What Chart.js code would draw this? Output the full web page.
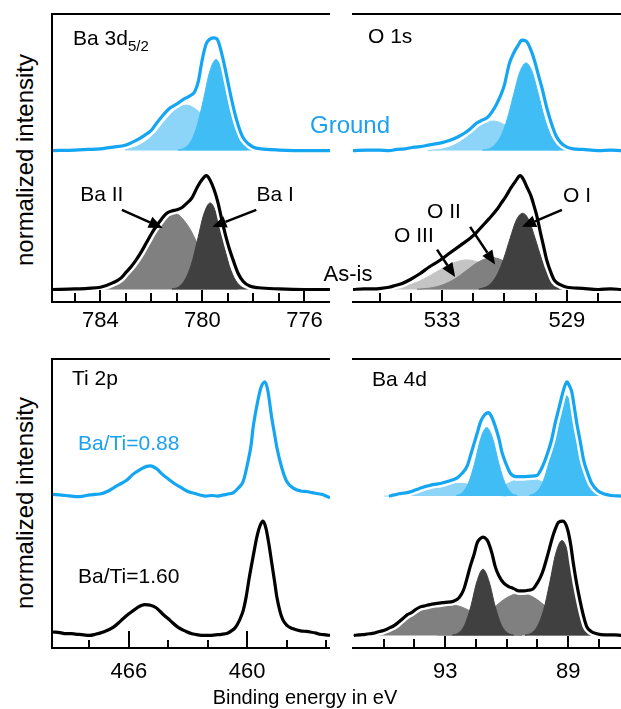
<!DOCTYPE html>
<html>
<head>
<meta charset="utf-8">
<script src="https://cdn.jsdelivr.net/npm/chart.js@4.4.0/dist/chart.umd.min.js"></script>
<style>
  body { margin: 0; background: #fff; }
  #page { position: relative; width: 621px; height: 709px; overflow: hidden; background: #fff;
          font-family: "Liberation Sans", Arial, sans-serif; }
  canvas { position: absolute; }
  .t { position: absolute; white-space: nowrap; line-height: 1; font-size: 21px; color: #000; }
  .l { transform: translateY(-50%); }
  .c { transform: translate(-50%, -50%); }
  .v { transform: translate(-50%, -50%) rotate(-90deg); font-size: 24px; }
  .blue { color: #1ba1ef; }
  .sub { font-size: 15px; position: relative; top: 6px; }
</style>
</head>
<body>
<div id="page">
  <canvas id="ba3d" width="286" height="332" style="left:48px;top:10px"></canvas>
  <canvas id="o1s" width="276" height="332" style="left:349px;top:10px"></canvas>
  <canvas id="ti2p" width="286" height="333" style="left:48px;top:355px"></canvas>
  <canvas id="ba4d" width="276" height="333" style="left:349px;top:355px"></canvas>

  <div class="t v" style="left:25px;top:160px">normalized intensity</div>
  <div class="t v" style="left:25px;top:503px">normalized intensity</div>
  <div class="t c" style="left:305px;top:697px;font-size:20px">Binding energy in eV</div>

  <div class="t l" style="left:73px;top:37px">Ba 3d<span class="sub">5/2</span></div>
  <div class="t l" style="left:368px;top:35px">O 1s</div>
  <div class="t l" style="left:72px;top:377px">Ti 2p</div>
  <div class="t l" style="left:372px;top:378px">Ba 4d</div>
  <div class="t c blue" style="left:350px;top:125px;font-size:24px">Ground</div>
  <div class="t c" style="left:348px;top:274px;font-size:22px">As-is</div>
  <div class="t l blue" style="left:78px;top:442px">Ba/Ti=0.88</div>
  <div class="t l" style="left:78px;top:575px">Ba/Ti=1.60</div>
</div>
<script>
// ---- Ba 3d5/2 ----
const ba3dGroundE = [785.9,785.0,784.5,784.0,783.5,783.0,782.6,782.3,782.0,781.8,781.55,781.3,781.0,780.75,780.5,780.3,780.15,780.05,779.95,779.85,779.7,779.55,779.4,779.3,779.15,779.0,778.85,778.7,778.55,778.4,778.2,778.0,777.7,777.5,777.0,776.0,775.0];
const ba3dGroundI = [0.0,0.005,0.01,0.015,0.03,0.05,0.09,0.13,0.18,0.24,0.31,0.37,0.41,0.45,0.48,0.52,0.62,0.75,0.86,0.94,0.98,0.99,0.97,0.90,0.76,0.60,0.44,0.30,0.19,0.11,0.06,0.03,0.015,0.01,0.005,0.0,0.0];
const ba3dGroundIE = [780.97,780.72,780.47,780.22,779.97,779.72,779.47,779.22,778.97,778.72,778.47,778.22,777.97];
const ba3dGroundII = [0.004,0.02,0.075,0.21,0.44,0.69,0.80,0.69,0.44,0.21,0.075,0.02,0.004];
const ba3dGroundIIE = [783.04,782.64,782.24,781.84,781.44,781.04,780.64,780.24,779.84,779.44,779.04,778.64,778.24];
const ba3dGroundIII = [0.01,0.032,0.08,0.16,0.27,0.36,0.40,0.36,0.27,0.16,0.08,0.032,0.01];

const ba3dAsisE = [785.9,785.0,784.5,784.0,783.5,783.2,783.0,782.8,782.6,782.4,782.2,782.0,781.8,781.6,781.4,781.2,781.0,780.8,780.6,780.4,780.2,780.0,779.85,779.7,779.55,779.4,779.25,779.1,778.95,778.8,778.6,778.4,778.15,777.8,777.0,776.0,775.0];
const ba3dAsisI = [0.0,0.005,0.01,0.02,0.06,0.10,0.15,0.20,0.26,0.33,0.41,0.49,0.56,0.62,0.67,0.69,0.70,0.72,0.76,0.81,0.90,0.97,1.0,0.96,0.88,0.77,0.62,0.48,0.36,0.26,0.14,0.07,0.03,0.015,0.005,0.0,0.0];
const ba3dAsisIE = [781.2,780.95,780.7,780.45,780.2,779.95,779.7,779.45,779.2,778.95,778.7,778.45,778.2];
const ba3dAsisII = [0.005,0.02,0.08,0.21,0.43,0.66,0.76,0.66,0.43,0.21,0.08,0.02,0.005];
const ba3dAsisIIE = [784.1,783.6,783.1,782.6,782.1,781.6,781.1,780.6,780.1,779.6,779.1,778.6];
const ba3dAsisIII = [0.007,0.03,0.09,0.22,0.41,0.59,0.67,0.57,0.36,0.15,0.04,0.01];

const ba3dTicks = [776,777,778,779,780,781,782,783,784,785];
const ba3dLabels = [784,780,776];

// ---- O 1s ----
const o1sGroundE = [535.85,535.4,535.0,534.7,534.45,534.2,534.0,533.7,533.4,533.0,532.75,532.5,532.3,532.1,531.9,531.7,531.55,531.4,531.25,531.1,531.0,530.85,530.7,530.55,530.45,530.3,530.15,530.05,529.9,529.8,529.65,529.5,529.35,529.2,529.0,528.8,528.5,528.0,527.6,527.27];
const o1sGroundI = [0.0,0.005,0.005,0.0,0.01,0.015,0.025,0.035,0.05,0.07,0.09,0.12,0.15,0.19,0.24,0.27,0.29,0.34,0.41,0.50,0.58,0.76,0.86,0.93,0.97,0.96,0.88,0.80,0.65,0.55,0.38,0.24,0.13,0.07,0.03,0.015,0.01,0.0,0.005,0.0];
const o1sGroundIE = [531.71,531.51,531.31,531.11,530.91,530.71,530.51,530.31,530.11,529.91,529.71,529.51,529.31,529.11,528.91];
const o1sGroundII = [0.004,0.014,0.05,0.13,0.28,0.49,0.69,0.77,0.69,0.49,0.28,0.13,0.05,0.014,0.004];
const o1sGroundIIE = [533.46,533.16,532.86,532.56,532.26,531.96,531.66,531.36,531.06,530.76,530.46,530.16,529.86,529.56,529.26];
const o1sGroundIII = [0.002,0.008,0.023,0.055,0.11,0.18,0.236,0.26,0.236,0.18,0.11,0.055,0.023,0.008,0.002];

const o1sAsisE = [535.85,535.5,535.2,534.95,534.7,534.5,534.3,534.0,533.7,533.4,533.1,532.75,532.4,532.1,531.9,531.7,531.5,531.25,531.1,530.95,530.8,530.65,530.5,530.4,530.3,530.15,530.05,529.95,529.85,529.75,529.65,529.5,529.4,529.2,529.0,528.5,528.0,527.6,527.27];
const o1sAsisI = [0.0,0.005,0.005,0.01,0.02,0.035,0.05,0.09,0.14,0.20,0.25,0.32,0.39,0.45,0.50,0.56,0.62,0.70,0.76,0.82,0.89,0.95,1.0,0.97,0.91,0.82,0.73,0.63,0.50,0.38,0.26,0.14,0.08,0.04,0.02,0.01,0.0,0.005,0.0];
const o1sAsisIE = [531.82,531.62,531.42,531.22,531.02,530.82,530.62,530.42,530.22,530.02,529.82,529.62,529.42,529.22,529.02];
const o1sAsisII = [0.005,0.019,0.057,0.138,0.275,0.45,0.61,0.67,0.61,0.45,0.275,0.138,0.057,0.019,0.005];
const o1sAsisIIE = [533.8,533.4,533.0,532.6,532.2,531.8,531.4,531.0,530.6,530.2,529.8,529.4,529.0];
const o1sAsisIII = [0.003,0.012,0.038,0.091,0.17,0.247,0.28,0.247,0.17,0.091,0.038,0.012,0.003];
const o1sAsisIIIE = [534.71,534.21,533.71,533.21,532.71,532.21,531.71,531.21,530.71,530.21,529.71];
const o1sAsisIIII = [0.008,0.028,0.075,0.15,0.226,0.26,0.226,0.15,0.075,0.028,0.008];

const o1sTicks = [528,529,530,531,532,533,534,535];
const o1sLabels = [533,529];

// ---- Ti 2p ----
const ti2pGroundE = [469.85,469.5,469.2,468.9,468.6,468.3,468.0,467.7,467.4,467.1,466.8,466.5,466.1,465.8,465.45,465.1,464.9,464.6,464.3,464.0,463.7,463.4,463.0,462.7,462.4,462.1,461.8,461.5,461.2,460.9,460.7,460.45,460.2,459.95,459.8,459.7,459.5,459.3,459.1,458.95,458.76,458.6,458.5,458.25,458.0,457.66,457.3,457.0,456.7,456.4,456.2,456.0,455.8];
const ti2pGroundI = [0.015,0.01,0.005,0.0,-0.005,0.0,0.01,0.015,0.02,0.04,0.07,0.10,0.14,0.19,0.23,0.26,0.265,0.24,0.19,0.15,0.11,0.08,0.04,0.025,0.01,0.0,0.005,0.0,0.01,0.02,0.03,0.07,0.13,0.31,0.45,0.60,0.80,0.95,1.0,0.92,0.69,0.53,0.43,0.25,0.13,0.07,0.045,0.04,0.03,0.02,0.015,0.0,-0.015];
const ti2pAsisE = [469.85,469.5,469.2,468.9,468.6,468.3,468.0,467.7,467.3,466.8,466.4,466.0,465.6,465.2,464.9,464.6,464.3,463.9,463.5,463.1,462.8,462.5,462.2,461.9,461.6,461.3,461.0,460.8,460.6,460.4,460.2,460.05,459.9,459.7,459.5,459.35,459.2,459.05,458.9,458.75,458.6,458.5,458.35,458.2,458.0,457.7,457.3,457.0,456.8,456.5,456.3,456.0,455.8];
const ti2pAsisI = [0.03,0.025,0.015,0.015,0.01,0.005,0.0,0.01,0.03,0.07,0.13,0.19,0.24,0.27,0.265,0.24,0.19,0.13,0.07,0.035,0.015,0.005,0.0,0.0,0.005,0.01,0.02,0.04,0.07,0.13,0.22,0.34,0.50,0.69,0.87,0.96,1.0,0.94,0.80,0.63,0.46,0.34,0.22,0.14,0.09,0.06,0.04,0.035,0.03,0.02,0.01,0.005,0.0];

const ti2pTicks = [456,458,460,462,464,466,468];
const ti2pLabels = [466,460];

// ---- Ba 4d ----
const ba4dGroundE = [94.83,94.65,94.5,94.35,94.24,94.1,94.0,93.85,93.7,93.55,93.4,93.16,92.9,92.61,92.45,92.29,92.15,92.05,91.96,91.85,91.75,91.6,91.5,91.37,91.25,91.15,91.0,90.88,90.7,90.45,90.2,90.02,89.85,89.69,89.55,89.42,89.3,89.2,89.1,89.04,88.95,88.88,88.8,88.72,88.6,88.5,88.35,88.23,88.05,87.85,87.6,87.28];
const ba4dGroundI = [0.0,0.01,0.02,0.025,0.03,0.04,0.05,0.065,0.08,0.09,0.10,0.11,0.13,0.16,0.20,0.26,0.38,0.47,0.55,0.65,0.70,0.73,0.70,0.61,0.50,0.38,0.27,0.20,0.17,0.17,0.175,0.18,0.25,0.36,0.48,0.64,0.77,0.88,0.97,1.0,0.96,0.91,0.78,0.64,0.47,0.32,0.19,0.11,0.05,0.02,0.005,0.0];
const ba4dGroundAE = [90.27,90.07,89.87,89.67,89.47,89.27,89.07,88.87,88.67,88.47,88.27,88.07,87.87];
const ba4dGroundAI = [0.006,0.027,0.094,0.25,0.50,0.77,0.88,0.77,0.50,0.25,0.094,0.027,0.006];
const ba4dGroundBE = [92.65,92.45,92.25,92.05,91.85,91.65,91.45,91.25,91.05,90.85,90.65];
const ba4dGroundBI = [0.005,0.028,0.11,0.28,0.50,0.60,0.50,0.28,0.11,0.028,0.005];
const ba4dGroundCE = [92.1,91.75,91.4,91.05,90.7,90.35,90.0,89.65,89.3,88.95,88.6];
const ba4dGroundCI = [0.007,0.021,0.052,0.098,0.142,0.16,0.142,0.098,0.052,0.021,0.007];
const ba4dGroundDE = [95.0,94.8,94.5,94.2,93.9,93.6,93.3,93.0,92.7,92.4,92.1,91.8,91.5,91.2,91.0];
const ba4dGroundDI = [0.0,0.0,0.01,0.02,0.035,0.06,0.08,0.095,0.11,0.11,0.085,0.05,0.02,0.005,0.0];

const ba4dAsisE = [95.97,95.8,95.6,95.45,95.32,95.2,95.05,94.9,94.78,94.64,94.5,94.37,94.24,94.1,94.0,93.81,93.65,93.5,93.27,93.0,92.73,92.55,92.4,92.29,92.19,92.05,91.96,91.85,91.77,91.65,91.59,91.48,91.37,91.25,91.1,90.95,90.77,90.6,90.45,90.3,90.13,90.0,89.9,89.8,89.65,89.53,89.42,89.31,89.17,89.02,88.92,88.83,88.72,88.61,88.5,88.4,88.25,88.07,87.8,87.5,87.28];
const ba4dAsisI = [0.0,0.005,0.01,0.015,0.02,0.03,0.04,0.055,0.07,0.09,0.12,0.15,0.18,0.20,0.22,0.25,0.26,0.27,0.28,0.29,0.30,0.33,0.40,0.50,0.60,0.72,0.81,0.85,0.86,0.84,0.81,0.72,0.60,0.52,0.46,0.43,0.41,0.39,0.39,0.395,0.41,0.46,0.51,0.58,0.72,0.84,0.93,0.99,1.0,0.93,0.80,0.63,0.45,0.30,0.17,0.08,0.035,0.015,0.005,0.005,0.0];
const ba4dAsisAE = [90.4,90.2,90.0,89.8,89.6,89.4,89.2,89.0,88.8,88.6,88.4,88.2,88.0];
const ba4dAsisAI = [0.004,0.02,0.08,0.22,0.46,0.72,0.83,0.72,0.46,0.22,0.08,0.02,0.004];
const ba4dAsisBE = [92.77,92.57,92.37,92.17,91.97,91.77,91.57,91.37,91.17,90.97,90.77];
const ba4dAsisBI = [0.003,0.021,0.089,0.25,0.47,0.58,0.47,0.25,0.089,0.021,0.003];
const ba4dAsisCE = [93.25,92.8,92.35,91.9,91.45,91.0,90.55,90.1,89.65,89.2,88.75,88.3,87.85];
const ba4dAsisCI = [0.006,0.022,0.061,0.135,0.236,0.33,0.37,0.33,0.236,0.135,0.061,0.022,0.006];
const ba4dAsisDE = [96.0,95.6,95.3,95.0,94.75,94.5,94.25,94.0,93.75,93.5,93.2,92.9,92.6,92.3,92.0,91.7,91.4,91.1,90.8,90.5];
const ba4dAsisDI = [0.0,0.005,0.015,0.03,0.06,0.11,0.16,0.21,0.245,0.265,0.27,0.27,0.26,0.23,0.18,0.12,0.07,0.03,0.01,0.0];

const ba4dTicks = [88,89,90,91,92,93,94,95];
const ba4dLabels = [93,89];

// peak labels with arrows (energy, intensity of the As-is curve)
const ba3dNotes = [
  { text: "Ba II", x: 783.95, y: 0.83, from: [783.16, 0.70], to: [781.56, 0.54] },
  { text: "Ba I", x: 777.15, y: 0.83, from: [777.89, 0.70], to: [779.61, 0.55] }
];
const o1sNotes = [
  { text: "O I", x: 528.68, y: 0.82, from: [529.16, 0.70], to: [530.44, 0.55] },
  { text: "O II", x: 532.94, y: 0.68, from: [532.1, 0.55], to: [531.3, 0.22] },
  { text: "O III", x: 533.9, y: 0.47, from: [533.16, 0.35], to: [532.58, 0.11] }
];

const groundOffset = 1.22;
const yMin = -0.11;
const yMax = 2.42;

const blueLine = "#14a5f3";
const blueDark = "#41bdf6";
const blueLight = "#8cd4f8";
const black = "#000000";
const grayDark = "#404040";
const grayMid = "#808080";
const grayLight = "#c4c4c4";

Chart.defaults.font.family = '"Liberation Sans", Arial, sans-serif';

function curve(es, is, off) {
  return es.map((e, i) => ({ x: e, y: is[i] + off }));
}

// measured spectrum: coloured line on top of a white halo
function spectrum(es, is, off, color) {
  return [
    { data: curve(es, is, off), borderColor: color, borderWidth: 3.2, pointRadius: 0, fill: false, cubicInterpolationMode: "monotone" },
    { data: curve(es, is, off), borderColor: "#fff", borderWidth: 8, pointRadius: 0, fill: false, cubicInterpolationMode: "monotone" }
  ];
}

function component(es, is, off, color) {
  return { data: curve(es, is, off), borderColor: color, backgroundColor: color, borderWidth: 1, pointRadius: 0, fill: { value: off }, cubicInterpolationMode: "monotone" };
}

function drawArrow(ctx, x0, y0, x1, y1) {
  const ang = Math.atan2(y1 - y0, x1 - x0);
  const head = 14, w = 6;
  const bx = x1 - head * Math.cos(ang), by = y1 - head * Math.sin(ang);
  ctx.lineWidth = 2.5;
  ctx.beginPath();
  ctx.moveTo(x0, y0);
  ctx.lineTo(bx, by);
  ctx.stroke();
  ctx.beginPath();
  ctx.moveTo(x1, y1);
  ctx.lineTo(bx + w * Math.sin(ang), by - w * Math.cos(ang));
  ctx.lineTo(bx - w * Math.sin(ang), by + w * Math.cos(ang));
  ctx.closePath();
  ctx.fill();
}

// frame lines, inward ticks, arrows
const framePlugin = {
  id: "frame",
  afterDatasetsDraw(chart, args, opts) {
    const { ctx, chartArea: a, scales: { x, y } } = chart;
    ctx.save();
    ctx.strokeStyle = "#000";
    ctx.fillStyle = "#000";
    ctx.lineWidth = 2;
    ctx.beginPath();
    ctx.moveTo(a.left - 1, a.top);
    ctx.lineTo(a.right, a.top);
    ctx.moveTo(a.left - 1, a.bottom);
    ctx.lineTo(a.right, a.bottom);
    if (opts.leftAxis) {
      ctx.moveTo(a.left, a.top);
      ctx.lineTo(a.left, a.bottom);
    }
    opts.ticks.forEach((v) => {
      const px = Math.round(x.getPixelForValue(v));
      const len = opts.labels.includes(v) ? opts.majorLen : opts.minorLen;
      ctx.moveTo(px, a.bottom);
      ctx.lineTo(px, a.bottom - len);
    });
    ctx.stroke();

    (opts.notes || []).forEach((n) => {
      drawArrow(ctx, x.getPixelForValue(n.from[0]), y.getPixelForValue(n.from[1]),
        x.getPixelForValue(n.to[0]), y.getPixelForValue(n.to[1]));
      ctx.font = '21px "Liberation Sans", Arial, sans-serif';
      ctx.textAlign = "center";
      ctx.textBaseline = "middle";
      ctx.fillText(n.text, x.getPixelForValue(n.x), y.getPixelForValue(n.y));
    });
    ctx.restore();
  }
};

function makePanel(id, p) {
  new Chart(document.getElementById(id), {
    type: "line",
    data: { datasets: p.datasets },
    options: {
      responsive: false,
      animation: false,
      events: [],
      layout: { padding: { left: 4, top: 4, right: 4, bottom: 0 } },
      plugins: {
        legend: { display: false },
        tooltip: { enabled: false },
        frame: { ticks: p.ticks, labels: p.labels, leftAxis: p.leftAxis, majorLen: p.majorLen, minorLen: p.minorLen, notes: p.notes }
      },
      scales: {
        x: {
          type: "linear",
          reverse: true,
          min: p.min,
          max: p.max,
          grid: { display: false, drawTicks: false },
          border: { display: false },
          afterBuildTicks: (s) => { s.ticks = p.ticks.map((v) => ({ value: v })); },
          afterFit: (s) => { s.height = 40; },
          ticks: {
            autoSkip: false,
            maxRotation: 0,
            padding: p.labelPad,
            color: "#000",
            font: { size: 22 },
            callback: (v) => (p.labels.includes(v) ? String(v) : "")
          }
        },
        y: { display: false, min: yMin, max: yMax }
      }
    },
    plugins: [framePlugin]
  });
}

makePanel("ba3d", {
  min: 775, max: 785.9, ticks: ba3dTicks, labels: ba3dLabels, leftAxis: true, majorLen: 12, minorLen: 9, labelPad: 6,
  notes: ba3dNotes,
  datasets: [
    ...spectrum(ba3dGroundE, ba3dGroundI, groundOffset, blueLine),
    component(ba3dGroundIE, ba3dGroundII, groundOffset, blueDark),
    component(ba3dGroundIIE, ba3dGroundIII, groundOffset, blueLight),
    ...spectrum(ba3dAsisE, ba3dAsisI, 0, black),
    component(ba3dAsisIE, ba3dAsisII, 0, grayDark),
    component(ba3dAsisIIE, ba3dAsisIII, 0, grayMid)
  ]
});

makePanel("o1s", {
  min: 527.27, max: 535.85, ticks: o1sTicks, labels: o1sLabels, leftAxis: false, majorLen: 12, minorLen: 9, labelPad: 6,
  notes: o1sNotes,
  datasets: [
    ...spectrum(o1sGroundE, o1sGroundI, groundOffset, blueLine),
    component(o1sGroundIE, o1sGroundII, groundOffset, blueDark),
    component(o1sGroundIIE, o1sGroundIII, groundOffset, blueLight),
    ...spectrum(o1sAsisE, o1sAsisI, 0, black),
    component(o1sAsisIE, o1sAsisII, 0, grayDark),
    component(o1sAsisIIE, o1sAsisIII, 0, grayMid),
    component(o1sAsisIIIE, o1sAsisIIII, 0, grayLight)
  ]
});

makePanel("ti2p", {
  min: 455.8, max: 469.9, ticks: ti2pTicks, labels: ti2pLabels, leftAxis: true, majorLen: 17, minorLen: 8, labelPad: 11,
  datasets: [
    ...spectrum(ti2pGroundE, ti2pGroundI, groundOffset, blueLine),
    ...spectrum(ti2pAsisE, ti2pAsisI, 0, black)
  ]
});

makePanel("ba4d", {
  min: 87.28, max: 96.0, ticks: ba4dTicks, labels: ba4dLabels, leftAxis: false, majorLen: 12, minorLen: 9, labelPad: 11,
  datasets: [
    ...spectrum(ba4dGroundE, ba4dGroundI, groundOffset, blueLine),
    component(ba4dGroundAE, ba4dGroundAI, groundOffset, blueDark),
    component(ba4dGroundBE, ba4dGroundBI, groundOffset, blueDark),
    component(ba4dGroundCE, ba4dGroundCI, groundOffset, blueLight),
    component(ba4dGroundDE, ba4dGroundDI, groundOffset, blueLight),
    ...spectrum(ba4dAsisE, ba4dAsisI, 0, black),
    component(ba4dAsisAE, ba4dAsisAI, 0, grayDark),
    component(ba4dAsisBE, ba4dAsisBI, 0, grayDark),
    component(ba4dAsisCE, ba4dAsisCI, 0, grayMid),
    component(ba4dAsisDE, ba4dAsisDI, 0, grayMid)
  ]
});
</script>
</body>
</html>
